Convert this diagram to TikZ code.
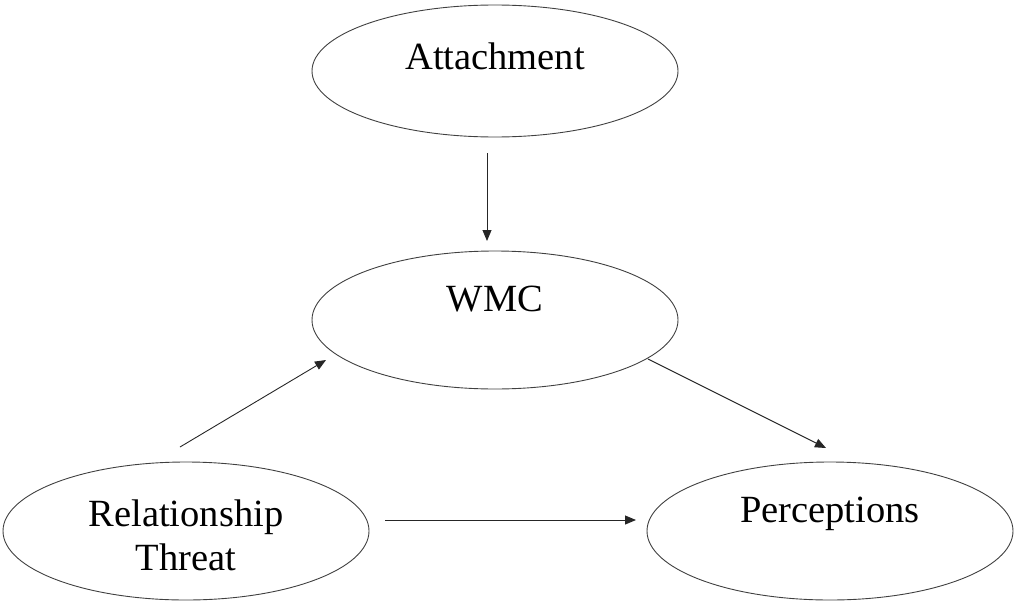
\documentclass[tikz,border=0pt]{standalone}
\usepackage{fontspec}
\setmainfont{Liberation Serif}
\usetikzlibrary{shapes.geometric,arrows.meta}
\begin{document}
\begin{tikzpicture}[x=1pt,y=-1pt,
  oval/.style={ellipse, draw=black!75, line width=0.9pt, minimum width=366pt, minimum height=138pt, inner sep=0pt},
  lbl/.style={font=\fontsize{38.5}{44}\selectfont, align=center, inner sep=0pt},
  conn/.style={draw=black!85, line width=0.9pt, -{Triangle[length=11pt,width=9pt]}}]
\useasboundingbox (0,0) rectangle (1016,602);
\node[oval, minimum height=132pt] (att) at (495,71) {};
\node[oval] (wmc) at (495,320) {};
\node[oval] (rt) at (186,531) {};
\node[oval] (per) at (830,531) {};
\node[lbl] (tatt) at (495,56) {Attachment};
\node[lbl] (twmc) at (495,299) {WMC};
\node[lbl] (trt) at (186,535) {Relationship\\Threat};
\node[lbl] (tper) at (830,514) {Perceptions};
\coordinate (a1) at (487,153);
\coordinate (a2) at (487,241);
\coordinate (b1) at (180,447);
\coordinate (b2) at (326,360);
\coordinate (c1) at (648,359);
\coordinate (c2) at (826,448);
\coordinate (d1) at (385,520);
\coordinate (d2) at (636,520);
\draw[conn] (a1) -- (a2);
\draw[conn] (b1) -- (b2);
\draw[conn] (c1) -- (c2);
\draw[conn] (d1) -- (d2);
\end{tikzpicture}
\end{document}
